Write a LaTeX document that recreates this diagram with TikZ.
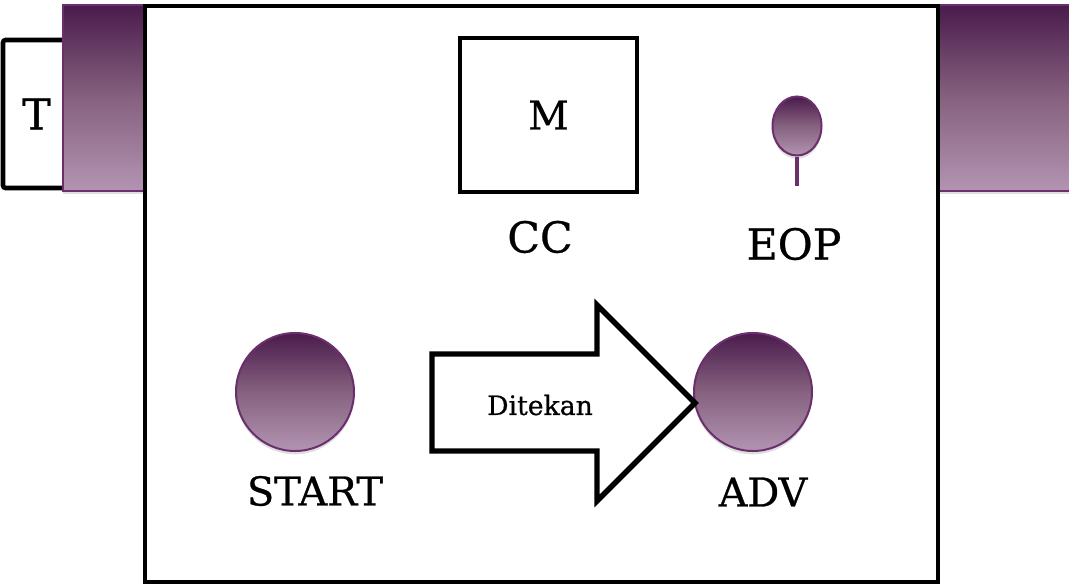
\documentclass[tikz,border=0pt]{standalone}
\usepackage{fontspec}
\setmainfont{DejaVu Serif}[BoldFont=DejaVu Serif, BoldFeatures={FakeBold=0.7}]
\usetikzlibrary{shadows,shapes.geometric}
\definecolor{pdark}{HTML}{4A1B4C}
\definecolor{plight}{HTML}{B294B2}
\definecolor{pmid}{HTML}{86627F}
\definecolor{pline}{HTML}{6B2F6E}
\tikzset{
  glossy/.style={draw=pline, line width=1.5pt, top color=pdark, bottom color=plight, middle color=pmid,
    drop shadow={opacity=0.25, shadow xshift=0pt, shadow yshift=-2.5pt}},
  blackbox/.style={draw=black, line width=3.5pt, fill=white},
  lbl/.style={inner sep=0pt, font=\fontsize{29.8}{32}\selectfont\bfseries},
  biglbl/.style={inner sep=0pt, font=\fontsize{32}{34}\selectfont\bfseries},
  smalllbl/.style={inner sep=0pt, font=\fontsize{20}{22}\selectfont\bfseries},
}
\begin{document}
\begin{tikzpicture}[x=0.75pt,y=-0.75pt]
\useasboundingbox (0,0) rectangle (1069,585);
% T box (behind the band)
\node[blackbox, rounded corners=2pt, minimum width=50.25pt, minimum height=111pt, biglbl] (tbox) at (36.5,114) {T};
% purple band
\path[glossy, line width=1pt] (63,5) rectangle (1085,191);
% main frame
\draw[blackbox] (145,6) rectangle (938,582);
% M box and CC
\node[blackbox, minimum width=132.75pt, minimum height=115.5pt, lbl] (mbox) at (548.5,115) {M};
\node[biglbl] (cc) at (540,237) {CC};
% EOP pin
\coordinate (stickend) at (797,186);
\node[glossy, ellipse, minimum width=36.75pt, minimum height=44.25pt, inner sep=0pt] (eop) at (797,126) {};
\draw[pline, line width=3.5pt] (eop.south) -- (stickend);
\node[biglbl] (eoplbl) at (794,244) {EOP};
% START and ADV buttons
\node[glossy, circle, minimum size=88.5pt, inner sep=0pt] (start) at (295,392) {};
\node[lbl] (startlbl) at (315,491) {START};
\node[glossy, circle, minimum size=88.5pt, inner sep=0pt] (adv) at (753,392) {};
\node[lbl] (advlbl) at (763,492) {ADV};
% big arrow
\draw[line width=4pt, fill=white, line join=miter]
  (432,354) -- (597,354) -- (597,305) -- (695,403) -- (597,501) -- (597,451) -- (432,451) -- cycle;
\node[smalllbl] (ditekan) at (540,405) {Ditekan};
\end{tikzpicture}
\end{document}
